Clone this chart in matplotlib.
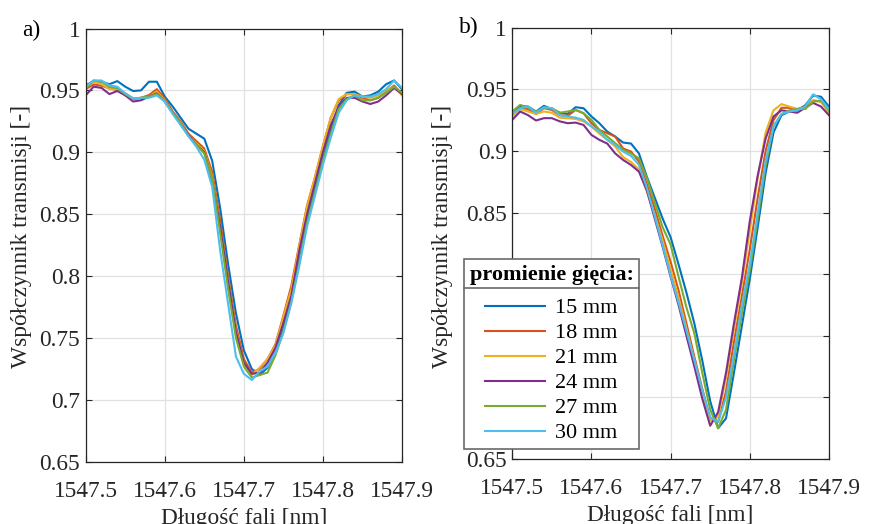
import matplotlib
matplotlib.use('Agg')
import matplotlib.pyplot as plt
import numpy as np
from matplotlib.lines import Line2D
from matplotlib.ticker import FormatStrFormatter

plt.rcParams['font.family'] = ['Liberation Serif', 'DejaVu Serif']

# dane (co 0.01 nm)
wavelength = np.linspace(1547.5, 1547.9, 41)
radius_labels = ['15 mm', '18 mm', '21 mm', '24 mm', '27 mm', '30 mm']
colors = ['#0072BD', '#D95319', '#EDB120', '#7E2F8E', '#77AC30', '#4DBEEE']

# a)
a_15 = [0.954, 0.9575, 0.957, 0.955, 0.9575, 0.953, 0.9495, 0.950, 0.957, 0.957,
        0.945, 0.937, 0.928, 0.919, 0.915, 0.911, 0.893, 0.855, 0.81, 0.77,
        0.74, 0.725, 0.72, 0.726, 0.738, 0.757, 0.781, 0.812, 0.845, 0.87,
        0.895, 0.918, 0.938, 0.948, 0.949, 0.945, 0.946, 0.949, 0.955, 0.958, 0.951]
a_18 = [0.951, 0.9548, 0.9538, 0.9516, 0.9503, 0.9476, 0.9435, 0.944, 0.9462, 0.951,
        0.9435, 0.933, 0.925, 0.915, 0.909, 0.903, 0.884, 0.845, 0.80, 0.76,
        0.733, 0.722, 0.725, 0.733, 0.745, 0.768, 0.792, 0.825, 0.857, 0.88,
        0.905, 0.928, 0.942, 0.947, 0.947, 0.944, 0.942, 0.944, 0.949, 0.954, 0.947]
a_21 = [0.952, 0.957, 0.955, 0.951, 0.951, 0.946, 0.9435, 0.9435, 0.945, 0.949,
        0.942, 0.932, 0.924, 0.914, 0.907, 0.901, 0.88, 0.84, 0.797, 0.756,
        0.73, 0.72, 0.726, 0.733, 0.744, 0.767, 0.789, 0.824, 0.856, 0.88,
        0.905, 0.928, 0.943, 0.947, 0.947, 0.945, 0.944, 0.946, 0.95, 0.953, 0.946]
a_24 = [0.946, 0.953, 0.952, 0.947, 0.9495, 0.946, 0.941, 0.942, 0.945, 0.9476,
        0.941, 0.932, 0.923, 0.914, 0.906, 0.900, 0.877, 0.84, 0.796, 0.755,
        0.73, 0.721, 0.722, 0.73, 0.742, 0.762, 0.784, 0.82, 0.85, 0.875,
        0.9, 0.922, 0.937, 0.944, 0.944, 0.941, 0.939, 0.941, 0.946, 0.952, 0.947]
a_27 = [0.952, 0.958, 0.957, 0.953, 0.9516, 0.947, 0.943, 0.944, 0.945, 0.947,
        0.941, 0.932, 0.923, 0.913, 0.906, 0.899, 0.878, 0.835, 0.79, 0.75,
        0.727, 0.718, 0.72, 0.722, 0.736, 0.755, 0.779, 0.81, 0.843, 0.868,
        0.893, 0.915, 0.935, 0.943, 0.946, 0.942, 0.942, 0.944, 0.948, 0.953, 0.948]
a_30 = [0.953, 0.958, 0.958, 0.954, 0.953, 0.9476, 0.9435, 0.944, 0.944, 0.946,
        0.941, 0.931, 0.922, 0.913, 0.9045, 0.894, 0.872, 0.821, 0.778, 0.735,
        0.721, 0.716, 0.723, 0.727, 0.738, 0.754, 0.778, 0.808, 0.84, 0.865,
        0.89, 0.912, 0.932, 0.942, 0.946, 0.945, 0.945, 0.947, 0.951, 0.958, 0.952]

# b)
b_15 = [0.9306, 0.9365, 0.936, 0.932, 0.9366, 0.934, 0.931, 0.930, 0.9355, 0.9347,
        0.928, 0.9225, 0.9157, 0.9117, 0.9068, 0.906, 0.898, 0.879, 0.862, 0.845,
        0.83, 0.808, 0.785, 0.76, 0.73, 0.697, 0.675, 0.683, 0.72, 0.758,
        0.796, 0.838, 0.882, 0.915, 0.929, 0.932, 0.933, 0.937, 0.945, 0.944, 0.936]
b_18 = [0.929, 0.935, 0.934, 0.930, 0.9347, 0.9333, 0.929, 0.9285, 0.9333, 0.9306,
        0.9225, 0.917, 0.9144, 0.9117, 0.902, 0.8995, 0.8914, 0.873, 0.853, 0.831,
        0.81, 0.787, 0.76, 0.733, 0.707, 0.683, 0.68, 0.705, 0.745, 0.782,
        0.82, 0.862, 0.9, 0.925, 0.935, 0.935, 0.934, 0.936, 0.941, 0.94, 0.932]
b_21 = [0.9279, 0.934, 0.932, 0.930, 0.932, 0.931, 0.927, 0.9265, 0.926, 0.924,
        0.9198, 0.914, 0.909, 0.9036, 0.895, 0.891, 0.885, 0.867, 0.848, 0.827,
        0.804, 0.781, 0.756, 0.73, 0.704, 0.681, 0.684, 0.716, 0.755, 0.793,
        0.835, 0.878, 0.915, 0.933, 0.938, 0.936, 0.934, 0.935, 0.941, 0.94, 0.931]
b_24 = [0.9252, 0.932, 0.929, 0.9247, 0.9266, 0.9266, 0.924, 0.9225, 0.923, 0.9211,
        0.913, 0.909, 0.906, 0.898, 0.8927, 0.8886, 0.8832, 0.868, 0.845, 0.822,
        0.798, 0.775, 0.75, 0.725, 0.699, 0.677, 0.688, 0.72, 0.76, 0.797,
        0.843, 0.88, 0.91, 0.928, 0.933, 0.932, 0.931, 0.935, 0.939, 0.936, 0.929]
b_27 = [0.932, 0.9374, 0.935, 0.932, 0.935, 0.9347, 0.931, 0.932, 0.9333, 0.9306,
        0.9252, 0.917, 0.9117, 0.9063, 0.9009, 0.898, 0.894, 0.878, 0.858, 0.838,
        0.824, 0.798, 0.773, 0.752, 0.72, 0.69, 0.675, 0.69, 0.73, 0.768,
        0.803, 0.845, 0.888, 0.92, 0.93, 0.933, 0.934, 0.934, 0.94, 0.941, 0.933]
b_30 = [0.930, 0.9347, 0.936, 0.931, 0.9355, 0.9347, 0.929, 0.928, 0.927, 0.9252,
        0.9198, 0.9157, 0.909, 0.905, 0.8995, 0.896, 0.8887, 0.870, 0.847, 0.823,
        0.799, 0.777, 0.754, 0.73, 0.706, 0.684, 0.68, 0.70, 0.735, 0.775,
        0.808, 0.85, 0.892, 0.92, 0.93, 0.932, 0.933, 0.936, 0.946, 0.942, 0.934]

series_a = [a_15, a_18, a_21, a_24, a_27, a_30]
series_b = [b_15, b_18, b_21, b_24, b_27, b_30]

FS = 16.8
LFS = 16
TXT = '#262626'


def style_axes(ax, label_y):
    ax.set_xlim(1547.5, 1547.9)
    ax.set_ylim(0.65, 1.0)
    ax.set_xticks(np.arange(1547.5, 1547.91, 0.1))
    ax.set_yticks(np.arange(0.65, 1.001, 0.05))
    ax.xaxis.set_major_formatter(FormatStrFormatter('%.1f'))
    ax.yaxis.set_major_formatter(plt.FuncFormatter(lambda v, p: '%g' % round(v, 2)))
    ax.grid(True, color='#e1e1e1', linewidth=0.9)
    ax.set_axisbelow(True)
    ax.tick_params(direction='in', length=4, width=0.8, top=True, right=True,
                   labelsize=FS, colors=TXT)
    ax.tick_params(axis='x', pad=14)
    ax.tick_params(axis='y', pad=4)
    for s in ax.spines.values():
        s.set_color(TXT)
        s.set_linewidth(0.9)
    ax.set_xlabel('Długość fali [nm]', fontsize=FS, color=TXT, labelpad=4)
    ax.set_ylabel('Współczynnik transmisji [-]', fontsize=FS, color=TXT)
    ax.yaxis.set_label_coords(*label_y)


fig = plt.figure(figsize=(8.69, 5.24), dpi=100)
ax1 = fig.add_axes([0.0986, 0.1189, 0.364, 0.8267])
ax2 = fig.add_axes([0.5895, 0.124, 0.3644, 0.8231])

for ys, c, lab in zip(series_a, colors, radius_labels):
    ax1.plot(wavelength, ys, color=c, linewidth=1.5, label=lab)
for ys, c, lab in zip(series_b, colors, radius_labels):
    ax2.plot(wavelength, ys, color=c, linewidth=1.5, label=lab)

style_axes(ax1, (-0.17, 0.521))
style_axes(ax2, (-0.187, 0.517))

fig.text(22 / 869, 1 - 30 / 524, 'a)', fontsize=FS, color='black', va='center')
fig.text(459 / 869, 1 - 27 / 524, 'b)', fontsize=FS, color='black', va='center')

leg = ax2.legend(loc='upper left', bbox_to_anchor=(464 / 869, 1 - 259 / 524),
                 bbox_transform=fig.transFigure, borderaxespad=0,
                 title='promienie gięcia:',
                 title_fontproperties={'weight': 'bold', 'size': LFS},
                 fontsize=LFS, frameon=True, fancybox=False, framealpha=1,
                 edgecolor='#6a6a6a', handlelength=2.7, handletextpad=0.45,
                 labelspacing=0.2, borderpad=0.25)
leg.get_frame().set_linewidth(1.2)
leg.set_zorder(10)
# wiekszy odstep miedzy tytulem a wpisami
leg._legend_box.sep = 0.6 * LFS
for t in leg.get_texts():
    t.set_color('black')

# linia pod tytułem legendy
fig.canvas.draw()
inv = fig.transFigure.inverted()
lb = leg.get_window_extent()
tb = leg.get_title().get_window_extent()
y_sep = inv.transform((0, tb.y0 - 3))[1]
x0, x1 = inv.transform((lb.x0, 0))[0], inv.transform((lb.x1, 0))[0]
fig.add_artist(Line2D([x0, x1], [y_sep, y_sep], color='#6a6a6a', linewidth=1.2,
                      transform=fig.transFigure, zorder=20))

fig.savefig('out.png', dpi=100)
